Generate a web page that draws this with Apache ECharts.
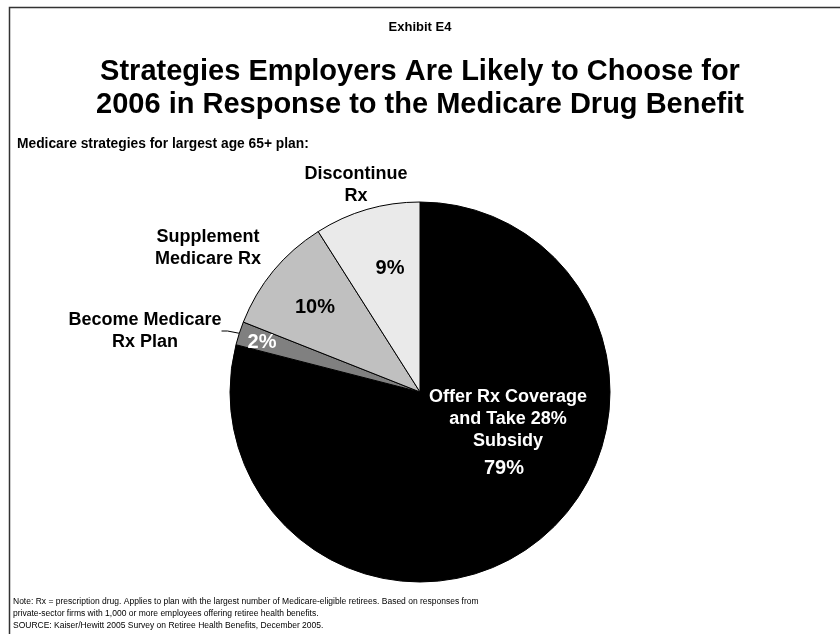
<!DOCTYPE html>
<html>
<head>
<meta charset="utf-8">
<script src="https://cdn.jsdelivr.net/npm/echarts@6/dist/echarts.min.js"></script>
<style>
  html, body { margin: 0; padding: 0; background: #fff; }
  #chart { width: 840px; height: 634px; }
</style>
</head>
<body>
<div id="chart"></div>
<script>
// data, clockwise from 12 o'clock
const names = ['Offer Rx Coverage\nand Take 28%\nSubsidy', 'Become Medicare\nRx Plan', 'Supplement\nMedicare Rx', 'Discontinue\nRx'];
const values = [79, 2, 10, 9];
const colors = ['#000000', '#808080', '#c0c0c0', '#eaeaea'];
const pctColors = ['#ffffff', '#ffffff', '#000000', '#000000'];

const notes = [
  'Note: Rx = prescription drug. Applies to plan with the largest number of Medicare-eligible retirees. Based on responses from',
  'private-sector firms with 1,000 or more employees offering retiree health benefits.',
  'SOURCE: Kaiser/Hewitt 2005 Survey on Retiree Health Benefits, December 2005.'
];

const font = '"Liberation Sans", Arial, sans-serif';
const center = [420, 392];
const radius = 190;

// where the labels sit (percent labels / name labels)
const pctPos = [[504, 468], [262, 342], [315, 307], [390, 268]];
const namePos = [[508, 419.5], [145, 331], [208, 248.5], [356, 185.5]];

const chart = echarts.init(document.getElementById('chart'));

const pieData = values.map((v, i) => ({
  value: v,
  name: names[i],
  itemStyle: { color: colors[i] },
  label: { color: pctColors[i] }
}));

chart.setOption({
  animation: false,
  title: [
    {
      text: 'Exhibit E4', left: 'center', top: 16,
      textStyle: { fontFamily: font, fontSize: 13, fontWeight: 'bold', color: '#000' }
    },
    {
      text: 'Strategies Employers Are Likely to Choose for\n2006 in Response to the Medicare Drug Benefit',
      left: 'center', top: 50,
      textStyle: { fontFamily: font, fontSize: 29, fontWeight: 'bold', color: '#000', lineHeight: 33 }
    },
    {
      text: 'Medicare strategies for largest age 65+ plan:', left: 12, top: 132,
      textStyle: { fontFamily: font, fontSize: 13.8, fontWeight: 'bold', color: '#000' }
    },
    {
      text: notes.join('\n'), left: 8, top: 591,
      textStyle: { fontFamily: font, fontSize: 8.5, fontWeight: 'normal', color: '#000', lineHeight: 12 }
    }
  ],
  graphic: [
    {
      type: 'rect', shape: { x: 9.5, y: 7.5, width: 900, height: 700 },
      style: { fill: 'none', stroke: '#333', lineWidth: 1.5 }, silent: true
    }
  ],
  series: [
    {
      // slices with percent labels
      type: 'pie',
      center: center,
      radius: radius,
      startAngle: 90,
      clockwise: true,
      data: pieData,
      itemStyle: { borderColor: '#000', borderWidth: 1 },
      label: {
        show: true,
        position: 'inside',
        formatter: p => p.value + '%',
        fontFamily: font, fontSize: 20, fontWeight: 'bold'
      },
      labelLine: { show: false },
      labelLayout: p => ({ x: pctPos[p.dataIndex][0], y: pctPos[p.dataIndex][1], align: 'center', verticalAlign: 'middle' }),
      emphasis: { disabled: true }
    },
    {
      // same slices, transparent, carrying the name labels
      type: 'pie',
      center: center,
      radius: radius,
      startAngle: 90,
      clockwise: true,
      silent: true,
      data: pieData.map((d, i) => ({
        value: d.value,
        name: d.name,
        label: { color: i === 0 ? '#fff' : '#000' },
        labelLine: { show: i === 1, length: 4, length2: 6, lineStyle: { color: '#000', width: 1 } }
      })),
      itemStyle: { color: 'rgba(0,0,0,0)' },
      label: {
        show: true,
        position: 'outside',
        formatter: p => p.name,
        fontFamily: font, fontSize: 18, fontWeight: 'bold',
        lineHeight: 22, align: 'center'
      },
      labelLayout: p => ({ x: namePos[p.dataIndex][0], y: namePos[p.dataIndex][1], align: 'center', verticalAlign: 'middle' }),
      emphasis: { disabled: true }
    }
  ]
});
</script>
</body>
</html>
